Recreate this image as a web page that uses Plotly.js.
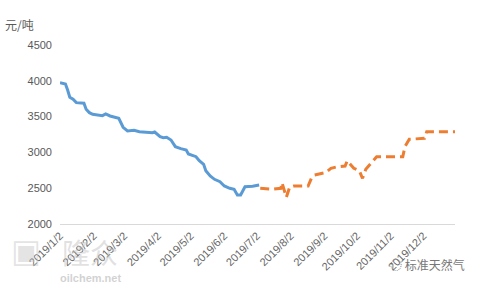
<!DOCTYPE html>
<html>
<head>
<meta charset="utf-8">
<script src="https://cdn.plot.ly/plotly-3.0.1.min.js"></script>
<style>html,body{margin:0;padding:0;background:#fff;}#chart{width:480px;height:288px;}</style>
</head>
<body>
<div id="chart"></div>
<script>
// Actual prices (solid blue)
const actualDates = ['2019-01-02','2019-01-07','2019-01-09','2019-01-11','2019-01-14','2019-01-17','2019-01-24','2019-01-26','2019-01-29','2019-02-01','2019-02-10','2019-02-13','2019-02-17','2019-02-21','2019-02-25','2019-03-01','2019-03-05','2019-03-11','2019-03-16','2019-03-22','2019-03-28','2019-03-30','2019-04-04','2019-04-07','2019-04-10','2019-04-14','2019-04-18','2019-04-23','2019-04-28','2019-04-30','2019-05-04','2019-05-07','2019-05-10','2019-05-14','2019-05-16','2019-05-20','2019-05-24','2019-05-29','2019-06-02','2019-06-07','2019-06-11','2019-06-14','2019-06-17','2019-06-19','2019-06-21','2019-06-28','2019-07-03','2019-07-04'];
const actualValues = [3974,3956,3872,3770,3742,3695,3686,3602,3555,3532,3513,3537,3509,3491,3477,3351,3299,3309,3289,3281,3275,3285,3220,3206,3211,3173,3080,3052,3034,2978,2960,2940,2884,2834,2745,2671,2624,2591,2531,2499,2485,2405,2405,2475,2521,2527,2545,2545];
// Second series (dashed orange)
const forecastDates = ['2019-07-05','2019-07-16','2019-07-24','2019-07-25','2019-07-29','2019-08-01','2019-08-05','2019-08-18','2019-08-21','2019-08-24','2019-09-03','2019-09-08','2019-09-14','2019-09-21','2019-09-23','2019-09-29','2019-10-04','2019-10-07','2019-10-10','2019-10-15','2019-10-20','2019-11-13','2019-11-15','2019-11-19','2019-12-03','2019-12-05','2019-12-31'];
const forecastValues = [2499,2485,2499,2577,2373,2513,2531,2531,2638,2685,2717,2778,2800,2810,2884,2778,2745,2638,2764,2848,2940,2940,3080,3183,3197,3289,3289];
const tickDates = ['2019-01-02','2019-02-02','2019-03-02','2019-04-02','2019-05-02','2019-06-02','2019-07-02','2019-08-02','2019-09-02','2019-10-02','2019-11-02','2019-12-02'];
const tickLabels = ['2019/1/2','2019/2/2','2019/3/2','2019/4/2','2019/5/2','2019/6/2','2019/7/2','2019/8/2','2019/9/2','2019/10/2','2019/11/2','2019/12/2'];
const yTicks = [2000,2500,3000,3500,4000,4500];
const unitLabel = '元/吨';

const FONT = 'Liberation Sans, Arial, Noto Sans CJK SC, sans-serif';
const traces = [
  {x: actualDates, y: actualValues, type: 'scatter', mode: 'lines',
   line: {color: '#5B9BD5', width: 3}, hoverinfo: 'skip'},
  {x: forecastDates, y: forecastValues, type: 'scatter', mode: 'lines',
   line: {color: '#ED7D31', width: 3, dash: '9px,5px'}, hoverinfo: 'skip'}
];
const layout = {
  width: 480, height: 288,
  margin: {l: 60, r: 25, t: 45, b: 64},
  paper_bgcolor: '#fff', plot_bgcolor: '#fff',
  showlegend: false,
  font: {family: FONT, color: '#595959', size: 11},
  xaxis: {
    type: 'date', range: ['2019-01-02', '2019-12-31'],
    tickmode: 'array', tickvals: tickDates, ticktext: tickLabels,
    tickangle: -45, showgrid: false, zeroline: false,
    showline: true, linecolor: '#d9d9d9', linewidth: 1,
    ticks: '', tickfont: {size: 11, color: '#666666'}
  },
  yaxis: {
    range: [2000, 4500], tickmode: 'array', tickvals: yTicks,
    showgrid: false, zeroline: false, showline: false, ticks: '',
    ticklabelstandoff: 7,
    tickfont: {size: 11, color: '#595959'}
  },
  annotations: [
    {text: unitLabel, xref: 'paper', yref: 'paper', x: -0.145, y: 1.115,
     xanchor: 'left', yanchor: 'middle', showarrow: false,
     font: {family: 'Noto Sans CJK SC, sans-serif', size: 12, color: '#595959'}},
    {text: '▣', xref: 'paper', yref: 'paper', x: -0.128, y: -0.035,
     xanchor: 'left', yanchor: 'top', showarrow: false,
     font: {family: 'DejaVu Sans, sans-serif', size: 32, color: 'rgba(195,195,195,0.45)'}},
    {text: '隆众', xref: 'paper', yref: 'paper', x: 0.0, y: -0.035,
     xanchor: 'left', yanchor: 'top', showarrow: false,
     font: {family: 'Noto Sans CJK SC, sans-serif', size: 28, color: 'rgba(195,195,195,0.5)'}},
    {text: '<b>oilchem.net</b>', xref: 'paper', yref: 'paper', x: -0.005, y: -0.255,
     xanchor: 'left', yanchor: 'top', showarrow: false,
     font: {family: FONT, size: 11, color: 'rgba(190,190,190,0.7)'}},
    {text: '◌ 标准天然气', xref: 'paper', yref: 'paper', x: 1.03, y: -0.165,
     xanchor: 'right', yanchor: 'top', showarrow: false,
     font: {family: 'Noto Sans CJK SC, sans-serif', size: 12, color: '#777'}}
  ]
};
Plotly.newPlot('chart', traces, layout, {staticPlot: true, displayModeBar: false});
</script>
</body>
</html>
